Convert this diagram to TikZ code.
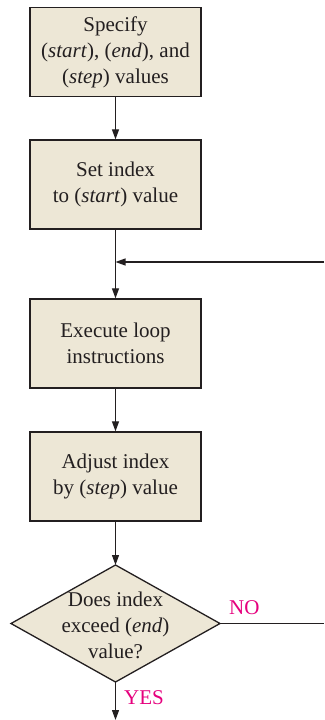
\documentclass[tikz,border=0pt]{standalone}
\usepackage{fontspec}
\setmainfont{Liberation Serif}
\newfontfamily\figfont{Liberation Serif}
\usetikzlibrary{arrows.meta}
\definecolor{boxfill}{HTML}{EDE7D6}
\definecolor{lineclr}{HTML}{231F20}
\definecolor{magentaclr}{HTML}{E5007D}
\tikzset{
  x=1pt,y=-1pt,
  txt/.style={align=center,inner sep=0pt,text=lineclr,font=\figfont\fontsize{21}{26}\selectfont},
  stepbox/.style={txt,draw=lineclr,line width=1.3pt,fill=boxfill,minimum width=171pt,minimum height=89pt},
  conn/.style={draw=lineclr,line width=1.2pt},
  arr/.style={conn,-{Triangle[length=10pt,width=7pt]}},
  lbl/.style={text=magentaclr,inner sep=0pt,font=\figfont\fontsize{21}{24}\selectfont}
}
\begin{document}
\begin{tikzpicture}
\useasboundingbox (0,0) rectangle (324,720);
\node[stepbox] (b1) at (115.5,52) {Specify\\(\textit{start}), (\textit{end}), and\\(\textit{step}) values};
\node[stepbox] (b2) at (115.5,184.5) {Set index\\to (\textit{start}) value};
\node[stepbox] (b3) at (115.5,343.5) {Execute loop\\instructions};
\node[stepbox] (b4) at (115.5,476.5) {Adjust index\\by (\textit{step}) value};
\coordinate (dtop) at (115.5,565);
\coordinate (dbot) at (115.5,682);
\coordinate (dright) at (220,623.5);
\coordinate (dleft) at (11,623.5);
\draw[draw=lineclr,line width=1.3pt,fill=boxfill] (dtop) -- (dright) -- (dbot) -- (dleft) -- cycle;
\node[txt] (dt) at (115.5,625) {Does index\\exceed (\textit{end})\\value?};
\coordinate (j) at (115.5,262);
\coordinate (rin) at (324,262);
\coordinate (rout) at (324,623.5);
\coordinate (bot) at (115.5,720);
\draw[arr] (b1.south) -- (b2.north);
\draw[conn] (b2.south) -- (j);
\draw[arr] (j) -- (b3.north);
\draw[arr] (rin) -- (j);
\draw[arr] (b3.south) -- (b4.north);
\draw[arr] (b4.south) -- (dtop);
\draw[arr] (dbot) -- (bot);
\draw[conn] (dright) -- (rout);
\node[lbl,anchor=west] (no) at (229,608) {NO};
\node[lbl,anchor=west] (yes) at (124,698) {YES};
\end{tikzpicture}
\end{document}
